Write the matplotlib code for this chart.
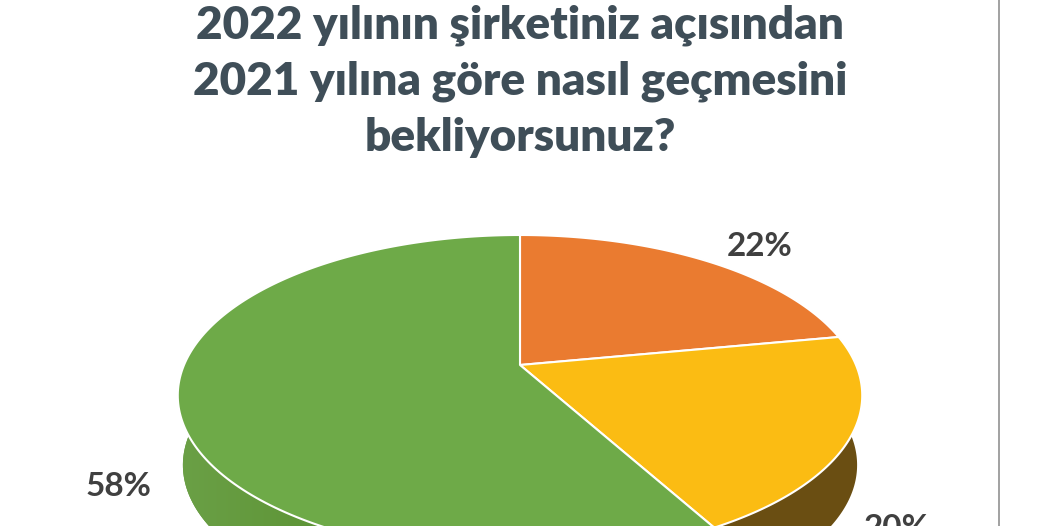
import matplotlib
matplotlib.use('Agg')
import matplotlib.pyplot as plt
import numpy as np
from matplotlib.patches import Polygon
from matplotlib.colors import LinearSegmentedColormap

title_lines = ['2022 yılının şirketiniz açısından', '2021 yılına göre nasıl geçmesini', 'bekliyorsunuz?']
values = [22, 20, 58]
labels = ['22%', '20%', '58%']
colors = ['#EA7B30', '#FBBC13', '#6EAA48']
wall_colors = ['#8A4A1C', '#6A4E12', '#5F9639']

plt.rcParams['font.family'] = ['Lato', 'DejaVu Sans']

fig = plt.figure(figsize=(10.4, 5.26), dpi=100)
ax = fig.add_axes([0, 0, 1, 1])
ax.set_xlim(0, 1040)
ax.set_ylim(526, 0)
ax.axis('off')

# tilted disc: the flat pie seen in perspective
cx, cy = 520, 365
b, a, k = 336, 154.7, 0.19


def project(u, v, scale=1.0, shift=0):
    d = 1 + k * v
    return cx + scale * b * u / d, cy - scale * a * v / d + shift


def arc(start, end):
    t = np.radians(np.linspace(start, end, 200))
    return np.sin(t), np.cos(t)


edges = np.concatenate([[0], np.cumsum(values)]) / sum(values) * 360

# walls first, the top goes over them
for i in range(len(values)):
    u, v = arc(edges[i], edges[i + 1])
    front = v < 0.1
    if not front.any():
        continue
    x1, y1 = project(u[front], v[front])
    x2, y2 = project(u[front], v[front], 0.985, 70)
    pts = np.column_stack([np.r_[x1, x2[::-1]], np.r_[y1, y2[::-1]]])
    poly = Polygon(pts, closed=True, fc=wall_colors[i], ec='none', zorder=1)
    ax.add_patch(poly)
    if i == 2:
        # left part of the green wall is a bit lighter
        cmap = LinearSegmentedColormap.from_list('w', ['#6BA046', '#5F9639', '#5B9136'])
        im = ax.imshow(np.linspace(0, 1, 256).reshape(1, -1), extent=(180, 420, 526, 380),
                       cmap=cmap, aspect='auto', zorder=1.5)
        im.set_clip_path(poly)
ax.set_xlim(0, 1040)
ax.set_ylim(526, 0)

for i in range(len(values)):
    u, v = arc(edges[i], edges[i + 1])
    x, y = project(u, v)
    ax.fill(np.r_[cx, x], np.r_[cy, y], fc=colors[i], ec='white', lw=1.5, joinstyle='round', zorder=2)

# divider on the right
ax.plot([999, 999], [0, 526], color='#9A9A9A', lw=1.3, zorder=3)

for line, y in zip(title_lines, [25, 81, 137]):
    ax.text(520, y, line, ha='center', va='center', fontsize=33, fontweight='heavy', color='#3F4E58')

ax.text(760, 247, labels[0], ha='center', va='center', fontsize=24, fontweight='bold', color='#404040')
ax.text(897, 529, labels[1], ha='center', va='center', fontsize=24, fontweight='bold', color='#404040')
ax.text(118, 487, labels[2], ha='center', va='center', fontsize=24, fontweight='bold', color='#404040')

fig.savefig('out.png', dpi=100)
